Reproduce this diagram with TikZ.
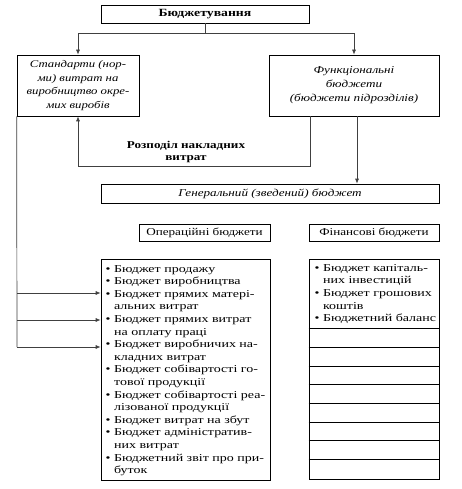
\documentclass[tikz,border=0pt]{standalone}
\usepackage{fontspec}
\setmainfont{Liberation Serif}[FakeStretch=1.25]
\newfontfamily\listfont{Liberation Serif}[FakeStretch=1.32]
\usetikzlibrary{arrows.meta}
\tikzset{
 box/.style={draw, line width=0.7pt, inner sep=0pt},
 conn/.style={draw, line width=0.7pt, black!75},
 arr/.style={conn, -{Latex[length=5pt,width=4pt]}},
 txt/.style={inner sep=0pt, align=center, font=\fontsize{10.5}{13.5}\selectfont},
 lst/.style={inner sep=0pt, align=left, anchor=north west, font=\listfont\fontsize{10.6}{12.6}\selectfont},
}
\newcommand\bl{\textbullet\ }
\newcommand\ind{\phantom{\textbullet\ }}
\begin{document}
\begin{tikzpicture}[x=1pt,y=-1pt]
\useasboundingbox (0,0) rectangle (462,489);
\fill[white] (0,0) rectangle (462,489);
% boxes
\node[box, minimum width=208pt, minimum height=18pt] (top) at (205,14) {};
\node[txt, font=\fontsize{11}{12}\selectfont\bfseries] (toptxt) at (top) {Бюджетування};
\node[box, minimum width=122pt, minimum height=61pt] (left) at (78,85.5) {};
\node[txt, font=\fontsize{10.2}{13.5}\selectfont\itshape] (lefttxt) at (left) {Стандарти (нор-\\ми) витрат на\\виробництво окре-\\мих виробів};
\node[box, minimum width=170pt, minimum height=61pt] (right) at (354,85.5) {};
\node[txt, font=\fontsize{10.5}{14}\selectfont\itshape] (righttxt) at (right) {Функціональні\\бюджети\\(бюджети підрозділів)};
\node[txt, font=\fontsize{10.5}{11.5}\selectfont\bfseries] (rozp) at (186,152) {Розподіл накладних\\витрат};
\node[box, minimum width=338pt, minimum height=19pt] (gen) at (270,193.5) {};
\node[txt, font=\fontsize{10.5}{12}\selectfont\itshape] (gentxt) at (gen) {Генеральний (зведений) бюджет};
\node[box, minimum width=131pt, minimum height=17pt] (oper) at (204.5,232.5) {};
\node[txt] (opertxt) at (oper) {Операційні бюджети};
\node[box, minimum width=130pt, minimum height=17pt] (fin) at (374,232.5) {};
\node[txt] (fintxt) at (fin) {Фінансові бюджети};
\node[box, minimum width=169pt, minimum height=221pt] (list) at (185.5,369.5) {};
\node[lst] (listtxt) at (105.5,265) {\bl Бюджет продажу\\\bl Бюджет виробництва\\\bl Бюджет прямих матері-\\\ind альних витрат\\\bl Бюджет прямих витрат\\\ind на оплату праці\\\bl Бюджет виробничих на-\\\ind кладних витрат\\\bl Бюджет собівартості го-\\\ind тової продукції\\\bl Бюджет собівартості реа-\\\ind лізованої продукції\\\bl Бюджет витрат на збут\\\bl Бюджет адміністратив-\\\ind них витрат\\\bl Бюджетний звіт про при-\\\ind буток};
\node[box, minimum width=130pt, minimum height=220pt] (flist) at (374,369) {};
\node[lst] (flisttxt) at (314.5,264) {\bl Бюджет капіталь-\\\ind них інвестицій\\\bl Бюджет грошових\\\ind коштів\\\bl Бюджетний баланс};
\foreach \yy in {328,347,366,384,403,422,440,459}
  \draw[line width=0.7pt] (flist.west |- 0,\yy) -- (flist.east |- 0,\yy);
% connectors
\coordinate (t1) at (205,33);
\draw[arr] (top.south) -- (t1) -| (left.north);
\draw[arr] (top.south) -- (t1) -| (right.north);
\coordinate (c1) at (310,166);
\draw[arr] (right.south -| c1) -- (c1) -| (left.south);
\coordinate (c2) at (357,0);
\draw[arr] (right.south -| c2) -- (gen.north -| c2);
\coordinate (a1) at (17,293);
\coordinate (a2) at (17,320);
\coordinate (a3) at (17,347);
\draw[conn] (left.south west) -- (a3);
\draw[arr] (a1) -- (list.west |- a1);
\draw[arr] (a2) -- (list.west |- a2);
\draw[arr] (a3) -- (list.west |- a3);
\end{tikzpicture}
\end{document}
